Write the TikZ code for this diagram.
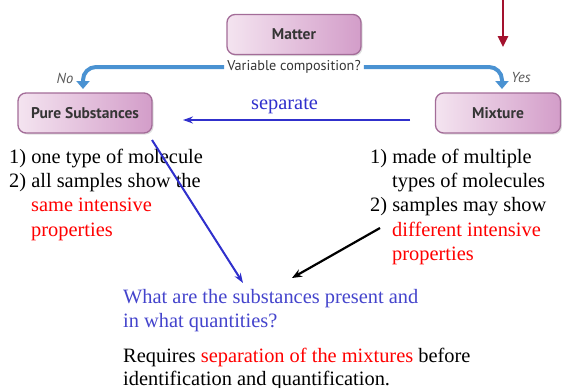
\documentclass[tikz,border=0pt]{standalone}
\usepackage{fontspec}
\setmainfont{Liberation Serif}
\newfontfamily\boxfont{PT Sans}
\usetikzlibrary{arrows.meta,shadows}
\definecolor{boxL}{HTML}{F4E4F0}
\definecolor{boxR}{HTML}{D39DC9}
\definecolor{boxB}{HTML}{A36C98}
\definecolor{boxT}{HTML}{353535}
\definecolor{flowblue}{HTML}{4A92D2}
\definecolor{sepblue}{HTML}{3030CC}
\definecolor{qblue}{HTML}{4444CC}
\definecolor{darkred}{HTML}{A3122E}
\begin{document}
\begin{tikzpicture}[x=1pt,y=-1pt,
  catbox/.style={draw=boxB, line width=1.3pt, rounded corners=8pt,
    left color=boxL, right color=boxR, text=boxT,
    font=\boxfont\bfseries\fontsize{15.5}{18}\selectfont,
    minimum height=40pt, inner sep=0pt,
    drop shadow={shadow xshift=1.5pt, shadow yshift=-1.5pt, opacity=0.25}},
  txt/.style={anchor=base west, inner sep=0pt, font=\fontsize{20.4}{24}\selectfont},
  side/.style={inner sep=0pt, text=black!65, font=\boxfont\itshape\fontsize{14.5}{16}\selectfont},
  flow/.style={draw=flowblue, line width=4pt, rounded corners=13pt,
    -{Triangle[width=13pt,length=8pt]}},
  sepline/.style={draw=sepblue, line width=2pt, -{Stealth[length=10pt,width=7pt]}},
  blkline/.style={draw=black, line width=2.2pt, -{Stealth[length=10pt,width=8pt]}}
]
\useasboundingbox (0,0) rectangle (562,388);

% boxes
\node[catbox, minimum width=134pt] (matter) at (294,34.5) {Matter};
\node[catbox, minimum width=134pt] (pure) at (85,113) {Pure Substances};
\node[catbox, minimum width=125pt] (mix) at (498,113) {Mixture};

% question label and flow arrows
\node[inner sep=3pt, text=boxT, font=\boxfont\fontsize{14.2}{16}\selectfont] (vc) at (294,67) {Variable composition?};
\coordinate (tipL) at (83,89);
\coordinate (tipR) at (502,89);
\draw[flow] (vc.west) -| (tipL);
\draw[flow] (vc.east) -| (tipR);
\node[side] (no) at (65,78) {No};
\node[side] (yes) at (521,78) {Yes};

% top red arrow
\coordinate (rs) at (503,0);
\coordinate (re) at (503,47);
\draw[draw=darkred, line width=2.5pt, -{Triangle[width=10pt,length=11pt]}] (rs) -- (re);

% separate
\node[txt, text=sepblue] (sep) at (251,109) {separate};
\coordinate (sa) at (410,120);
\coordinate (sb) at (183,120);
\draw[sepline] (sa) -- (sb);

% left list
\node[txt] (l1) at (9,163) {1) one type of molecule};
\node[txt] (l2) at (9,187.3) {2) all samples show the};
\node[txt, text=red] (l3) at (31,211.6) {same intensive};
\node[txt, text=red] (l4) at (31,236) {properties};

% right list
\node[txt] (r1) at (370,163) {1) made of multiple};
\node[txt] (r2) at (392,187.3) {types of molecules};
\node[txt] (r3) at (370,211.6) {2) samples may show};
\node[txt, text=red] (r4) at (392,236) {different intensive};
\node[txt, text=red] (r5) at (392,260) {properties};

% question
\node[txt, text=qblue] (q1) at (123,303) {What are the substances present and};
\node[txt, text=qblue] (q2) at (123,327) {in what quantities?};

% requires
\node[txt] (s1) at (123,362) {Requires \textcolor{red}{separation of the mixtures} before};
\node[txt] (s2) at (123,385) {identification and quantification.};

% diagonal arrows
\coordinate (da) at (152,140);
\coordinate (db) at (243,283);
\draw[sepline] (da) -- (db);
\coordinate (ba) at (380,228);
\coordinate (bb) at (292,278);
\draw[blkline] (ba) -- (bb);
\end{tikzpicture}
\end{document}
